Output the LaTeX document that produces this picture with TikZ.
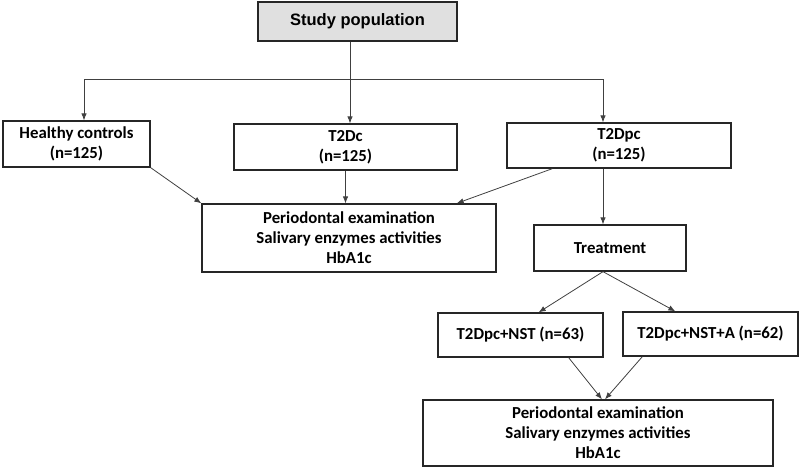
\documentclass[tikz,border=0pt]{standalone}
\usepackage{fontspec}
\setmainfont{Carlito}
\newfontfamily\arialfont{Liberation Sans}
\usetikzlibrary{arrows.meta,calc}
\begin{document}
\begin{tikzpicture}[x=1pt,y=-1pt,
  box/.style={draw=black!85,line width=1.3pt,fill=white,align=center,inner sep=0pt,
    font=\fontsize{16.8}{20}\selectfont\bfseries},
  conn/.style={draw=black!75,line width=0.8pt},
  arr/.style={conn,-{Latex[length=7pt,width=5.5pt]}}]
\useasboundingbox (0,0) rectangle (800,471);
\node[box,fill=black!12,minimum width=199pt,minimum height=39pt,font=\arialfont\fontsize{16.5}{20}\selectfont\bfseries] (study) at (357.5,21.5) {Study population};
\node[box,minimum width=147pt,minimum height=46pt] (healthy) at (76.5,144) {Healthy controls\\(n=125)};
\node[box,minimum width=223pt,minimum height=46pt] (t2dc) at (345.5,147) {T2Dc\\(n=125)};
\node[box,minimum width=224pt,minimum height=45pt] (t2dpc) at (619,145.5) {T2Dpc\\(n=125)};
\node[box,minimum width=294pt,minimum height=68pt] (perioA) at (349,238) {Periodontal examination\\Salivary enzymes activities\\HbA1c};
\node[box,minimum width=152pt,minimum height=46pt] (treat) at (610,248) {Treatment};
\node[box,minimum width=165pt,minimum height=44pt] (nst) at (520.5,335) {T2Dpc+NST (n=63)};
\node[box,minimum width=175pt,minimum height=44pt] (nsta) at (710.5,334) {T2Dpc+NST+A (n=62)};
\node[box,minimum width=350pt,minimum height=66pt] (perioB) at (598,433) {Periodontal examination\\Salivary enzymes activities\\HbA1c};
\coordinate (hl) at (84,79);
\coordinate (hm) at (350,79);
\coordinate (hr) at (603,79);
\draw[conn] (hl) -- (hr);
\draw[conn] (study.south -| hm) -- (hm);
\draw[arr] (hl) -- (healthy.north -| hl);
\draw[arr] (hm) -- (t2dc.north -| hm);
\draw[arr] (hr) -- (t2dpc.north -| hr);
\draw[arr] (healthy.south east) -- (perioA.north west);
\draw[arr] (t2dc.south) -- (perioA.north -| t2dc.south);
\draw[arr] ($(t2dpc.south west)+(46,0)$) -- ($(perioA.north east)+(-40,0)$);
\draw[arr] (hr |- t2dpc.south) -- (hr |- treat.north);
\draw[arr] (hr |- treat.south) -- ($(nst.north east)+(-65,0)$);
\draw[arr] (hr |- treat.south) -- ($(nsta.north west)+(53,0)$);
\draw[arr] ($(nst.south east)+(-35,0)$) -- ($(perioB.north)+(4,0)$);
\draw[arr] ($(nsta.south west)+(20,0)$) -- ($(perioB.north)+(7,0)$);
\end{tikzpicture}
\end{document}
